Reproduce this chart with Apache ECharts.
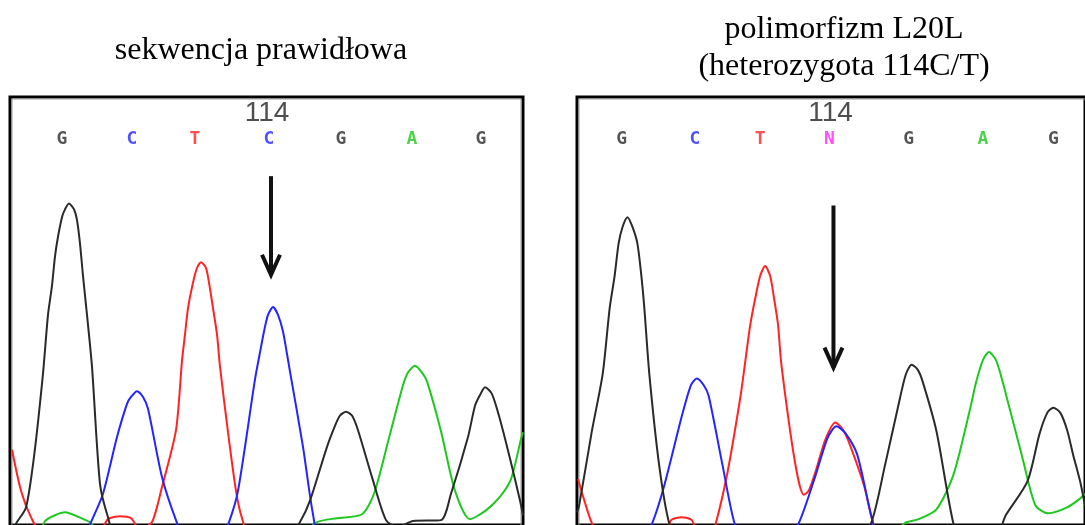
<!DOCTYPE html>
<html>
<head>
<meta charset="utf-8">
<script src="https://cdn.jsdelivr.net/npm/echarts@6/dist/echarts.min.js"></script>
<style>
  html, body { margin: 0; padding: 0; background: #fff; }
  #chart { width: 1085px; height: 525px; }
</style>
</head>
<body>
<div id="chart"></div>
<script>
// Sanger chromatogram fragment around position 114: reference vs. heterozygous C/T sample.
// x = scan position within the trace window, y = fluorescence intensity.

const titleRef = 'sekwencja prawidłowa';
const titleHet = 'polimorfizm L20L\n(heterozygota 114C/T)';

const basesRef = ['G', 'C', 'T', 'C', 'G', 'A', 'G'];
const basesHet = ['G', 'C', 'T', 'N', 'G', 'A', 'G'];
const basePosRef = [52, 122, 185, 259, 331, 402, 471];
const basePosHet = [45, 119, 185, 255, 335, 410, 481];
const positionLabel = '114';
const positionLabelX = [257, 256];
const markedIndex = 3;

// reference trace (sekwencja prawidłowa)
const refG = [[0,-10],[7,3],[16,18],[24,70],[33,155],[38,215],[42,245],[45,275],[48,295],[52,315],[55,323],[59,329],[64,323],[67,312],[70,288],[73,255],[77,215],[82,162],[90,42],[98,8],[106,-10],[280,-10],[290,3],[300,25],[317,80],[326,104],[330,112],[336,116],[342,112],[348,97],[362,49],[376,5],[388,-2],[403,4],[431,5],[441,32],[458,90],[465,122],[470,133],[475,141],[482,134],[490,108],[500,68],[510,25],[513,10]];
const refC = [[0,-10],[75,-10],[81,3],[93,32],[107,90],[117,124],[121,131],[127,137],[133,131],[138,119],[152,49],[166,5],[174,-10],[212,-10],[219,3],[228,35],[245,149],[251,182],[254,198],[258,215],[263,223],[268,215],[273,198],[277,175],[280,157],[293,80],[303,11],[310,-10],[513,-10]];
const refT = [[2,77],[11,35],[21,8],[30,-5],[90,-5],[98,6],[110,9],[121,7],[130,-5],[142,3],[152,39],[166,97],[172,168],[175,195],[178,222],[183,248],[187,263],[191,269],[196,263],[199,248],[203,222],[207,195],[210,162],[218,95],[226,35],[232,7],[240,-10],[513,-10]];
const refA = [[0,-10],[28,-10],[35,4],[45,10],[55,13],[69,8],[81,2],[90,-10],[290,-10],[307,3],[327,7],[352,11],[364,32],[379,89],[393,143],[398,156],[405,163],[412,156],[417,147],[431,96],[445,35],[460,6],[476,15],[490,29],[501,47],[511,88],[513,95]];

// heterozygous trace (114C/T)
const hetG = [[0,13],[2,19],[15,96],[26,155],[33,222],[38,255],[42,288],[46,305],[51,315],[56,305],[61,288],[65,255],[68,222],[73,155],[83,61],[93,2],[101,-10],[283,-10],[297,2],[311,61],[324,120],[332,154],[338,164],[344,159],[349,147],[363,96],[380,2],[388,-10],[423,-10],[433,10],[455,45],[467,93],[475,115],[481,120],[488,115],[495,97],[501,72],[508,45],[513,20]];
const hetC = [[0,-10],[68,-10],[76,2],[88,40],[106,112],[115,143],[121,150],[128,143],[133,132],[147,61],[159,2],[168,-10],[213,-10],[224,2],[241,51],[253,89],[262,101],[271,94],[283,72],[298,6],[305,-10],[513,-10]];
const hetT = [[1,47],[8,23],[15,2],[23,-10],[88,-10],[95,5],[106,8],[116,5],[123,-10],[135,-10],[140,1],[152,54],[165,131],[170,168],[175,205],[180,232],[185,255],[190,265],[195,255],[199,232],[203,205],[206,168],[214,105],[220,65],[225,40],[229,31],[234,35],[241,55],[251,88],[261,105],[269,97],[276,81],[290,40],[298,6],[305,-10],[513,-10]];
const hetA = [[0,-10],[318,-10],[331,2],[345,6],[363,16],[380,51],[397,119],[403,146],[410,169],[416,177],[423,169],[430,146],[450,68],[463,20],[476,12],[495,18],[508,27],[513,32]];

const baseColor = { G: '#2a2a2a', C: '#2424ff', T: '#ff2424', A: '#1fc81f', N: '#ff24ff' };
const traceColor = { G: '#2a2a2a', C: '#2424ff', T: '#ff2424', A: '#1fc81f' };

const SCAN_MAX = 513;
const INT_MAX = 438;
const LETTER_Y = 395;
const POSITION_Y = 421;
const arrowRef = { x: 261, from: 357, to: 254 };
const arrowHet = { x: 259, from: 327, to: 159 };

const panels = [
  { left: 10, traces: { G: refG, C: refC, T: refT, A: refA }, bases: basesRef, pos: basePosRef, arrow: arrowRef },
  { left: 577, traces: { G: hetG, C: hetC, T: hetT, A: hetA }, bases: basesHet, pos: basePosHet, arrow: arrowHet }
];
const GRID_TOP = 97, GRID_W = 513, GRID_H = 438;

const chart = echarts.init(document.getElementById('chart'), null, { renderer: 'canvas' });

const series = [];
panels.forEach((p, i) => {
  ['A', 'T', 'C', 'G'].forEach(b => {
    series.push({
      type: 'line', xAxisIndex: i, yAxisIndex: i, data: p.traces[b],
      smooth: 0.25, showSymbol: false, symbol: 'none', clip: true,
      lineStyle: { color: traceColor[b], width: 2 }, z: 3
    });
  });
  series.push({
    type: 'scatter', xAxisIndex: i, yAxisIndex: i, symbolSize: 0, z: 5,
    data: p.bases.map((b, k) => ({
      value: [p.pos[k], LETTER_Y],
      label: { formatter: b, color: baseColor[b] }
    })),
    label: { show: true, position: 'inside', fontFamily: 'DejaVu Sans Mono', fontWeight: 'bold', fontSize: 18 }
  });
  series.push({
    type: 'scatter', xAxisIndex: i, yAxisIndex: i, symbolSize: 0, z: 6,
    data: [{ value: [positionLabelX[i], POSITION_Y] }],
    label: { show: true, position: 'inside', formatter: positionLabel, color: '#222',
             fontFamily: 'Liberation Sans', fontSize: 28 }
  });
});

chart.setOption({
  animation: false,
  backgroundColor: '#fff',
  title: [
    { text: titleRef, left: 256, top: 30, textAlign: 'center',
      textStyle: { fontFamily: 'Liberation Serif', fontWeight: 'normal', fontSize: 32, color: '#000' } },
    { text: titleHet, left: 839, top: 6, textAlign: 'center',
      textStyle: { fontFamily: 'Liberation Serif', fontWeight: 'normal', fontSize: 32, lineHeight: 37, color: '#000' } }
  ],
  grid: panels.map(p => ({
    left: p.left, top: GRID_TOP, width: GRID_W, height: GRID_H,
    show: true, backgroundColor: '#fff', borderColor: '#000', borderWidth: 3
  })),
  xAxis: panels.map((p, i) => ({ type: 'value', gridIndex: i, min: 0, max: SCAN_MAX, show: false })),
  yAxis: panels.map((p, i) => ({ type: 'value', gridIndex: i, min: 0, max: INT_MAX, show: false })),
  series: series
});

// inner grey frame line and the arrows pointing at position 114
const graphics = [];
panels.forEach((p, i) => {
  graphics.push({
    type: 'rect', silent: true, z: 1,
    shape: { x: p.left + 2, y: GRID_TOP + 2, width: GRID_W - 4, height: GRID_H },
    style: { fill: null, stroke: '#9a9a9a', lineWidth: 1 }
  });
  const top = chart.convertToPixel({ gridIndex: i }, [p.arrow.x, p.arrow.from]);
  const tip = chart.convertToPixel({ gridIndex: i }, [p.arrow.x, p.arrow.to]);
  graphics.push({
    type: 'line', z: 10, silent: true,
    shape: { x1: tip[0], y1: top[1], x2: tip[0], y2: tip[1] - 2 },
    style: { stroke: '#111', lineWidth: 4 }
  });
  graphics.push({
    type: 'polyline', z: 10, silent: true,
    shape: { points: [[tip[0] - 9, tip[1] - 22], [tip[0], tip[1] - 2], [tip[0] + 9, tip[1] - 22]] },
    style: { stroke: '#111', lineWidth: 4, fill: null, lineJoin: 'miter' }
  });
});
chart.setOption({ graphic: graphics });
</script>
</body>
</html>
